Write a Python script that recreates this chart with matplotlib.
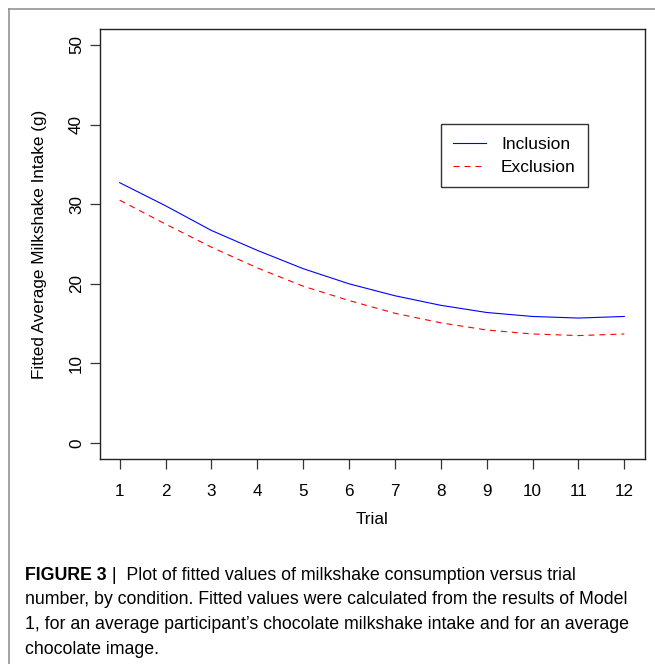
import matplotlib
matplotlib.use("Agg")
import matplotlib.pyplot as plt
from matplotlib import font_manager
from matplotlib.lines import Line2D

plt.rcParams['font.family'] = ['Liberation Sans', 'DejaVu Sans']
plt.rcParams['lines.scale_dashes'] = False

trials = list(range(1, 13))
inclusion = [32.7, 29.8, 26.7, 24.2, 21.9, 20.0, 18.5, 17.3, 16.4, 15.9, 15.7, 15.9]
exclusion = [30.5, 27.5, 24.6, 22.0, 19.7, 17.9, 16.3, 15.1, 14.2, 13.7, 13.5, 13.7]
yticks = [0, 10, 20, 30, 40, 50]
series_labels = ["Inclusion", "Exclusion"]
xlabel = "Trial"
ylabel = "Fitted Average Milkshake Intake (g)"
caption_bold = "FIGURE 3"
caption_lines = [
    " |  Plot of fitted values of milkshake consumption versus trial",
    "number, by condition. Fitted values were calculated from the results of Model",
    "1, for an average participant\u2019s chocolate milkshake intake and for an average",
    "chocolate image.",
]

W, H, DPI = 655, 664, 100
fig = plt.figure(figsize=(W / DPI, H / DPI), dpi=DPI)

# outer frame (top and left edges)
fc = '#8a8a8a'
fig.add_artist(Line2D([9 / W, 1.0], [1 - 9 / H, 1 - 9 / H], color=fc, lw=1.1, transform=fig.transFigure))
fig.add_artist(Line2D([9 / W, 9 / W], [0, 1 - 9 / H], color=fc, lw=1.1, transform=fig.transFigure))

left, right, top, bottom = 99.5, 644.5, 29, 459
ax = fig.add_axes([left / W, 1 - bottom / H, (right - left) / W, (bottom - top) / H])

ax.plot(trials, inclusion, color='#0000FF', lw=0.8, label=series_labels[0])
ax.plot(trials, exclusion, color='#FF0000', lw=0.8, linestyle=(0, (4.3, 3.6)), label=series_labels[1])

ax.set_xlim(0.56, 12.44)
ax.set_ylim(-2, 52)
ax.set_xticks(trials)
ax.set_yticks(yticks)
for s in ax.spines.values():
    s.set_linewidth(1.0)
    s.set_color('#222222')
ax.tick_params(axis='both', direction='out', length=7.2, width=0.9, color='#333333', labelsize=12.3)
ax.tick_params(axis='x', pad=11)
ax.tick_params(axis='y', pad=4)
for lab in ax.get_yticklabels():
    lab.set_rotation(90)
    lab.set_va('center')
ax.set_xlabel(xlabel, fontsize=12.3, labelpad=9)
ax.set_ylabel(ylabel, fontsize=12.3, labelpad=16)

leg = ax.legend(loc='upper left', bbox_to_anchor=((440.7 - left) / (right - left), 1 - (124 - top) / (bottom - top)),
                borderaxespad=0, fancybox=False, edgecolor='#333333', fontsize=12.5,
                handlelength=1.9, handletextpad=0.85, borderpad=0.72, labelspacing=0.45, framealpha=1)
leg.get_frame().set_linewidth(1.0)

# caption
names = {f.name for f in font_manager.fontManager.ttflist}
cap_family = 'Liberation Sans Narrow' if 'Liberation Sans Narrow' in names else 'Liberation Sans'
renderer = fig.canvas.get_renderer()
target_w = 602.0
size = 13.0
probe = fig.text(0, 0, caption_lines[1], fontsize=size, family=cap_family)
w = probe.get_window_extent(renderer).width
probe.remove()
size = size * target_w / w

x0 = 25 / W
ys = [575, 600, 624.5, 649]
t0 = fig.text(x0, 1 - ys[0] / H, caption_bold, fontsize=size, family=cap_family, weight='bold', va='center')
bw = t0.get_window_extent(renderer).width
fig.text(x0 + bw / W, 1 - ys[0] / H, caption_lines[0], fontsize=size, family=cap_family, va='center')
for yy, line in zip(ys[1:], caption_lines[1:]):
    fig.text(x0, 1 - yy / H, line, fontsize=size, family=cap_family, va='center')

fig.savefig('out.png', dpi=DPI)
